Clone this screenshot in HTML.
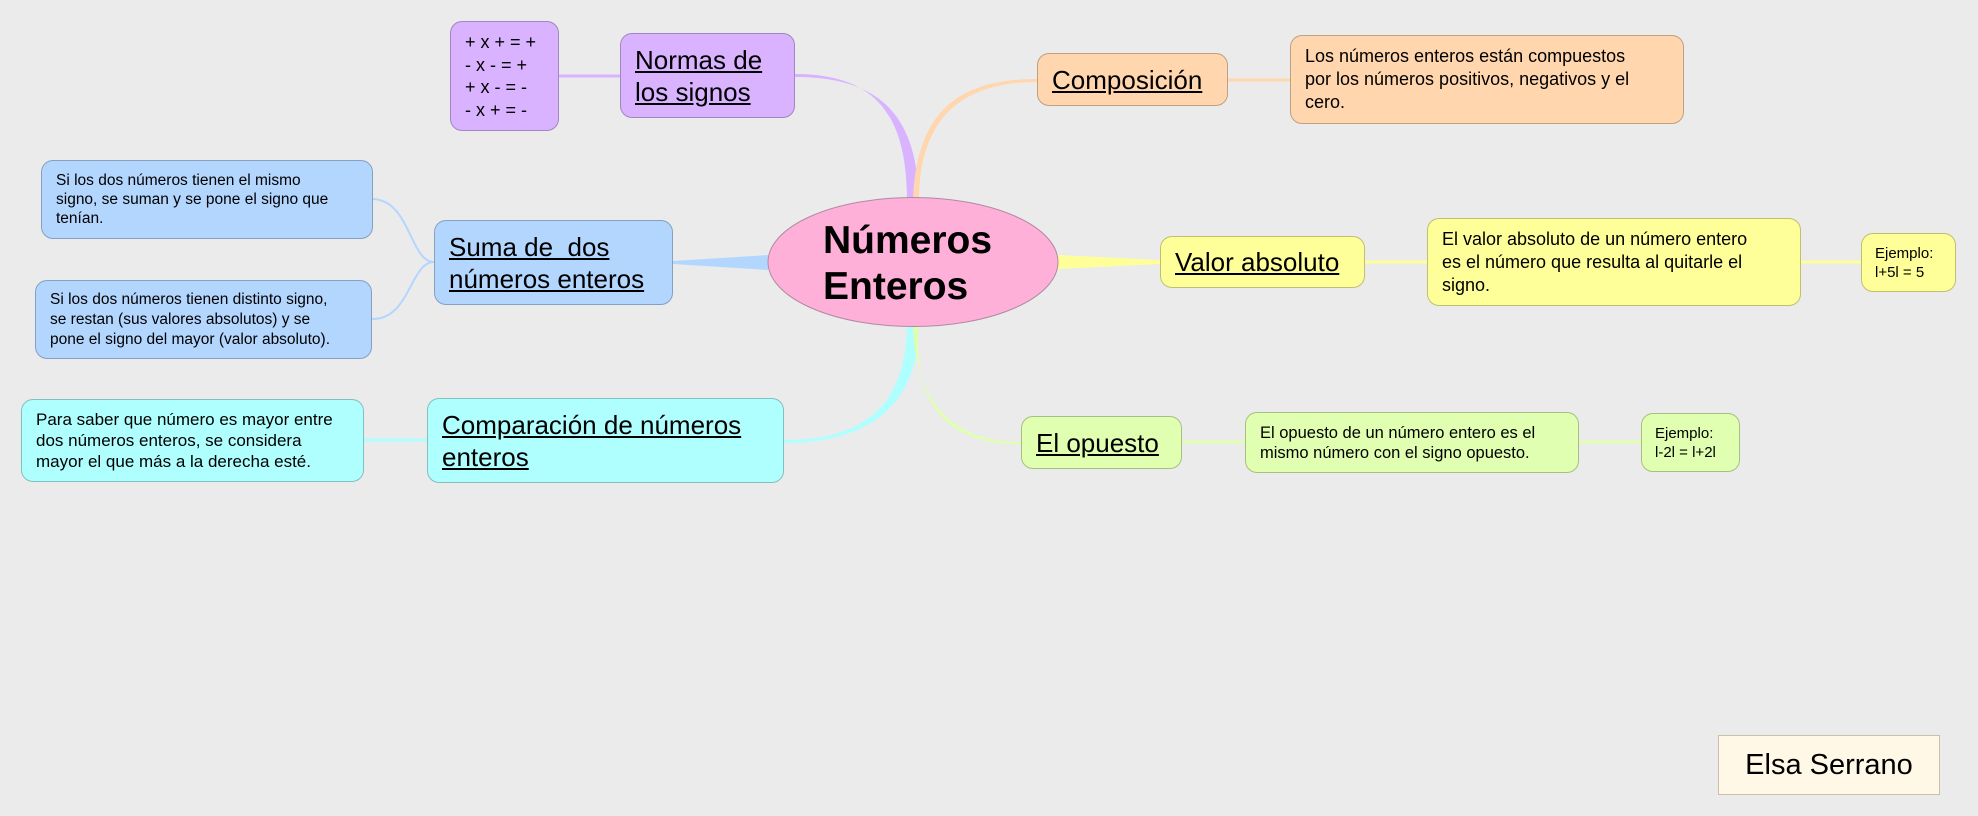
<!DOCTYPE html>
<html><head><meta charset="utf-8"><style>
body{margin:0;width:1978px;height:816px;background:#ebebeb;position:relative;overflow:hidden;font-family:"Liberation Sans",sans-serif;color:#000}
.n{position:absolute;box-sizing:border-box;border-radius:12px;border:1px solid rgba(0,0,0,0.25);white-space:nowrap}
.b{font-size:26px;line-height:32px;text-decoration:underline;padding-left:14px;display:flex;flex-direction:column;justify-content:center}
.d{padding-left:14px;display:flex;flex-direction:column;justify-content:center}
</style></head><body>
<svg width="1978" height="816" style="position:absolute;left:0;top:0">
<path d="M795,74 C880,74 906,120 907,198 L919,198 C916,120 885,77 795,77 Z" fill="#d9b3ff"/>
<path d="M1037,79 C960,79 917,110 913,198 L919,198 C920,115 965,82 1037,82 Z" fill="#ffd6ad"/>
<path d="M673,261 L768,255 L768,270 L673,264 Z" fill="#b3d6ff"/>
<path d="M1058,255 L1160,260 L1160,264 L1058,269 Z" fill="#ffff99"/>
<path d="M907,327 C905,400 870,440 784,440 L784,443 C875,443 918,400 919,327 Z" fill="#b0ffff"/>
<path d="M913,327 C916,400 950,442 1021,442 L1021,444 C945,445 912,400 919,327 Z" fill="#e0ffb0"/>
<path d="M559,76 L620,76" stroke="#d9b3ff" stroke-width="3" fill="none"/>
<path d="M1228,80 L1290,80" stroke="#ffd6ad" stroke-width="3" fill="none"/>
<path d="M434,262 C410,262 410,200 373,199" stroke="#b3d6ff" stroke-width="2" fill="none"/>
<path d="M434,262 C410,262 410,320 372,319" stroke="#b3d6ff" stroke-width="2" fill="none"/>
<path d="M364,440 L427,440" stroke="#b0ffff" stroke-width="3" fill="none"/>
<path d="M1365,262 L1427,262" stroke="#ffff99" stroke-width="3" fill="none"/>
<path d="M1801,262 L1861,262" stroke="#ffff99" stroke-width="3" fill="none"/>
<path d="M1182,442 L1245,442" stroke="#e0ffb0" stroke-width="3" fill="none"/>
<path d="M1579,442 L1641,442" stroke="#e0ffb0" stroke-width="3" fill="none"/>
<ellipse cx="913" cy="262" rx="145" ry="64.5" fill="#ffb0d8" stroke="#b08aa0" stroke-width="1"/>
<text x="823" y="253" font-family="Liberation Sans" font-weight="bold" font-size="39">Números</text>
<text x="823" y="299" font-family="Liberation Sans" font-weight="bold" font-size="39">Enteros</text>
</svg>

<div class="n d" style="left:450px;top:21px;width:109px;height:110px;background:#d9b3ff;font-size:18px;line-height:22.5px">+ x + = +<br>- x - = +<br>+ x - = -<br>- x + = -</div>
<div class="n b" style="left:620px;top:33px;width:175px;height:85px;background:#d9b3ff">Normas de<br>los signos</div>

<div class="n d" style="left:41px;top:160px;width:332px;height:79px;background:#b3d6ff;font-size:15.5px;line-height:19px">Si los dos números tienen el mismo<br>signo, se suman y se pone el signo que<br>tenían.</div>
<div class="n d" style="left:35px;top:280px;width:337px;height:79px;background:#b3d6ff;font-size:15.5px;line-height:20px">Si los dos números tienen distinto signo,<br>se restan (sus valores absolutos) y se<br>pone el signo del mayor (valor absoluto).</div>
<div class="n b" style="left:434px;top:220px;width:239px;height:85px;background:#b3d6ff">Suma de&nbsp; dos<br>números enteros</div>

<div class="n d" style="left:21px;top:399px;width:343px;height:83px;background:#b0ffff;font-size:17px;line-height:21px">Para saber que número es mayor entre<br>dos números enteros, se considera<br>mayor el que más a la derecha esté.</div>
<div class="n b" style="left:427px;top:398px;width:357px;height:85px;background:#b0ffff">Comparación de números<br>enteros</div>

<div class="n b" style="left:1037px;top:53px;width:191px;height:53px;background:#ffd6ad">Composición</div>
<div class="n d" style="left:1290px;top:35px;width:394px;height:89px;background:#ffd6ad;font-size:18px;line-height:23px">Los números enteros están compuestos<br>por los números positivos, negativos y el<br>cero.</div>

<div class="n b" style="left:1160px;top:236px;width:205px;height:52px;background:#ffff99">Valor absoluto</div>
<div class="n d" style="left:1427px;top:218px;width:374px;height:88px;background:#ffff99;font-size:18px;line-height:23px">El valor absoluto de un número entero<br>es el número que resulta al quitarle el<br>signo.</div>
<div class="n d" style="left:1861px;top:233px;width:95px;height:59px;background:#ffff99;font-size:15px;line-height:19px;padding-left:13px">Ejemplo:<br>l+5l = 5</div>

<div class="n b" style="left:1021px;top:416px;width:161px;height:53px;background:#e0ffb0">El opuesto</div>
<div class="n d" style="left:1245px;top:412px;width:334px;height:61px;background:#e0ffb0;font-size:16.5px;line-height:20px">El opuesto de un número entero es el<br>mismo número con el signo opuesto.</div>
<div class="n d" style="left:1641px;top:413px;width:99px;height:59px;background:#e0ffb0;font-size:15px;line-height:19px;padding-left:13px">Ejemplo:<br>l-2l = l+2l</div>

<div style="position:absolute;left:1718px;top:735px;width:222px;height:60px;box-sizing:border-box;background:#fff8e6;border:1px solid #c8c0a8;font-size:29px;line-height:58px;text-align:center">Elsa Serrano</div>
</body></html>
